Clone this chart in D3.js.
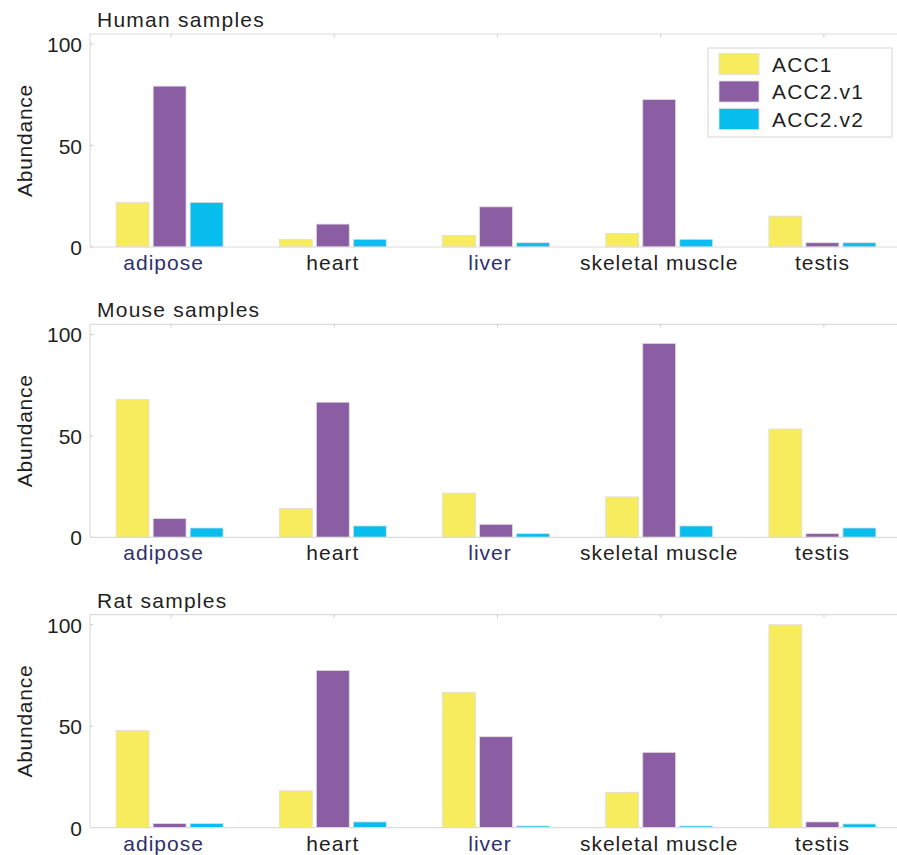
<!DOCTYPE html>
<html>
<head>
<meta charset="utf-8">
<script src="https://cdn.jsdelivr.net/npm/d3@7"></script>
<style>
  html, body { margin: 0; padding: 0; background: #fff; }
  svg { display: block; font-family: "Liberation Sans", Arial, Helvetica, sans-serif; }
</style>
</head>
<body>
<svg id="chart" width="897" height="855"></svg>
<script>
// Tissue categories and isoform series
const categories = ["adipose", "heart", "liver", "skeletal muscle", "testis"];
const seriesNames = ["ACC1", "ACC2.v1", "ACC2.v2"];
const panelTitles = ["Human samples", "Mouse samples", "Rat samples"];
const yTicks = [0, 50, 100];

// Relative abundance per tissue, one array per species and isoform
const humanACC1   = [22.0, 3.8, 5.7, 6.7, 15.2];
const humanACC2v1 = [79.3, 11.3, 19.8, 72.7, 2.1];
const humanACC2v2 = [22.0, 3.8, 2.1, 3.8, 2.1];

const mouseACC1   = [67.9, 14.2, 21.8, 19.9, 53.4];
const mouseACC2v1 = [9.2, 66.6, 6.4, 95.6, 1.8];
const mouseACC2v2 = [4.6, 5.6, 1.8, 5.6, 4.6];

const ratACC1   = [47.8, 18.2, 66.7, 17.4, 100.0];
const ratACC2v1 = [2.0, 77.5, 44.8, 37.1, 2.8];
const ratACC2v2 = [2.0, 2.8, 0.8, 0.8, 1.8];

const panelData = [
  [humanACC1, humanACC2v1, humanACC2v2],
  [mouseACC1, mouseACC2v1, mouseACC2v2],
  [ratACC1, ratACC2v1, ratACC2v2]
];

const colors = ["#F7EC5E", "#8B5EA4", "#07BEEE"];
const highlightLabels = new Set(["adipose", "liver"]);
const textColor = "#1f1f1f";

const svg = d3.select("#chart");
const left = 90;
const panelTop0 = 34, panelStep = 290.3, panelHeight = 213;

const x = d3.scaleBand().domain(categories).range([88, 904]).paddingInner(0).paddingOuter(0);
const xs = d3.scaleBand().domain(seriesNames).range([0, x.bandwidth()]).paddingInner(0.11).paddingOuter(0.76);
const cx = d => x(d) + x.bandwidth() / 2;

panelData.forEach((series, p) => {
  const top = panelTop0 + p * panelStep;
  const bottom = top + panelHeight;
  const y = d3.scaleLinear().domain([0, 105]).range([bottom, top]);
  const g = svg.append("g");

  // axes frame (left, top)
  g.append("line").attr("x1", left).attr("x2", left).attr("y1", top).attr("y2", bottom)
    .attr("stroke", "#dcdcdc").attr("stroke-width", 1.2);
  g.append("line").attr("x1", left).attr("x2", 897).attr("y1", top).attr("y2", top)
    .attr("stroke", "#dcdcdc").attr("stroke-width", 1.2);

  // top ticks at category centres
  g.selectAll("line.xt").data(categories).join("line")
    .attr("x1", d => cx(d) + 1.5).attr("x2", d => cx(d) + 1.5)
    .attr("y1", top).attr("y2", top + 3)
    .attr("stroke", "#c8c8c8");

  // y ticks and labels
  g.selectAll("line.yt").data(yTicks).join("line")
    .attr("x1", left).attr("x2", left + 3)
    .attr("y1", d => y(d)).attr("y2", d => y(d))
    .attr("stroke", "#c8c8c8");
  g.selectAll("text.yl").data(yTicks).join("text")
    .attr("x", 82).attr("y", d => y(d) + 8)
    .attr("text-anchor", "end")
    .attr("font-size", 21).attr("fill", textColor)
    .text(d => d);

  // bars
  const cells = [];
  series.forEach((vals, si) => vals.forEach((v, ci) => cells.push({ cat: categories[ci], s: seriesNames[si], si, v })));
  g.selectAll("rect.bar").data(cells).join("rect")
    .attr("x", d => x(d.cat) + xs(d.s))
    .attr("width", xs.bandwidth())
    .attr("y", d => y(d.v))
    .attr("height", d => y(0) - y(d.v))
    .attr("fill", d => colors[d.si])
    .attr("stroke", "#dedede").attr("stroke-width", 0.8);

  // baseline
  g.append("line").attr("x1", left).attr("x2", 897).attr("y1", bottom).attr("y2", bottom)
    .attr("stroke", "#dcdcdc").attr("stroke-width", 1.2);

  // category labels
  g.selectAll("text.cl").data(categories).join("text")
    .attr("x", d => cx(d))
    .attr("dx", d => highlightLabels.has(d) ? -6 : 0)
    .attr("y", bottom + 23)
    .attr("text-anchor", "middle")
    .attr("font-size", 21).attr("letter-spacing", 1.0)
    .attr("fill", d => highlightLabels.has(d) ? "#2f2f6c" : textColor)
    .text(d => d);

  // panel title
  g.append("text").attr("x", 97).attr("y", top - 7)
    .attr("font-size", 21).attr("letter-spacing", 1.25).attr("fill", textColor)
    .text(panelTitles[p]);

  // y-axis title
  g.append("text")
    .attr("transform", `translate(32,${(top + bottom) / 2}) rotate(-90)`)
    .attr("text-anchor", "middle")
    .attr("font-size", 21).attr("letter-spacing", 0.75).attr("fill", textColor)
    .text("Abundance");
});

// legend in the first panel
const lg = svg.append("g");
lg.append("rect").attr("x", 708).attr("y", 48).attr("width", 184).attr("height", 89)
  .attr("fill", "#fff").attr("stroke", "#dcdcdc").attr("stroke-width", 1.2);
seriesNames.forEach((name, i) => {
  const cy = 64 + i * 27.5;
  lg.append("rect").attr("x", 719).attr("y", cy - 10.5).attr("width", 40).attr("height", 21)
    .attr("fill", colors[i]).attr("stroke", "#dedede").attr("stroke-width", 0.8);
  lg.append("text").attr("x", 772).attr("y", cy + 7.5)
    .attr("font-size", 21).attr("letter-spacing", 1.15).attr("fill", textColor)
    .text(name);
});
</script>
</body>
</html>
